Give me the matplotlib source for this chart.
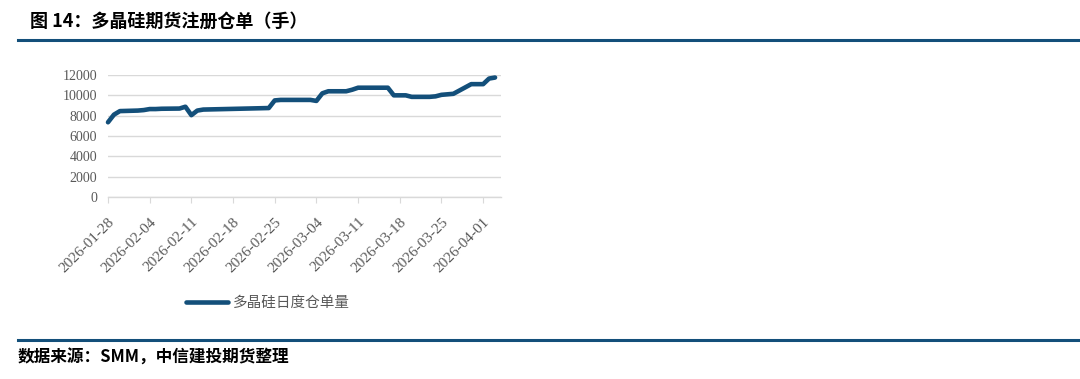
import matplotlib.pyplot as plt
import matplotlib.dates as mdates
import numpy as np
import pandas as pd

plt.rcParams['font.family'] = ['Noto Sans CJK SC', 'DejaVu Sans']

# 多晶硅日度仓单量 (手)
dates = ['2026-01-28', '2026-01-29', '2026-01-30', '2026-02-02', '2026-02-03',
         '2026-02-04', '2026-02-05', '2026-02-06', '2026-02-09', '2026-02-10',
         '2026-02-11', '2026-02-12', '2026-02-13', '2026-02-24', '2026-02-25',
         '2026-02-26', '2026-02-27', '2026-03-02', '2026-03-03', '2026-03-04',
         '2026-03-05', '2026-03-06', '2026-03-09', '2026-03-10', '2026-03-11',
         '2026-03-12', '2026-03-13', '2026-03-16', '2026-03-17', '2026-03-18',
         '2026-03-19', '2026-03-20', '2026-03-23', '2026-03-24', '2026-03-25',
         '2026-03-26', '2026-03-27', '2026-03-30', '2026-03-31', '2026-04-01',
         '2026-04-02', '2026-04-03']
volume = [7350, 8100, 8450, 8500, 8550,
          8650, 8650, 8680, 8700, 8880,
          8050, 8500, 8600, 8750, 9500,
          9550, 9550, 9550, 9550, 9450,
          10200, 10400, 10400, 10550, 10750,
          10750, 10750, 10750, 10000, 10000,
          10000, 9850, 9850, 9900, 10050,
          10100, 10150, 11100, 11100, 11100,
          11650, 11750]
tick_dates = ['2026-01-28', '2026-02-04', '2026-02-11', '2026-02-18', '2026-02-25',
              '2026-03-04', '2026-03-11', '2026-03-18', '2026-03-25', '2026-04-01']

title = '图 14：多晶硅期货注册仓单（手）'
series_name = '多晶硅日度仓单量'
source = '数据来源：SMM，中信建投期货整理'

blue = '#134f7a'
gray_txt = '#595959'
grid_c = '#d9d9d9'

W, H = 1080, 379
fig = plt.figure(figsize=(W / 100, H / 100), dpi=100)

# axes position in pixels
left, right, top, bottom = 108, 501, 75, 197
ax = fig.add_axes([left / W, 1 - bottom / H, (right - left) / W, (bottom - top) / H])

x = pd.to_datetime(dates)
ax.plot(x, volume, color=blue, lw=3.3, solid_joinstyle='round', solid_capstyle='round',
        label=series_name, clip_on=False)

ax.set_ylim(0, 12000)
ax.set_yticks(np.arange(0, 12001, 2000))
ax.set_xlim(pd.Timestamp('2026-01-28'), pd.Timestamp('2026-04-04'))
ax.set_xticks(pd.to_datetime(tick_dates))
ax.xaxis.set_major_formatter(mdates.DateFormatter('%Y-%m-%d'))

ax.grid(axis='y', color=grid_c, lw=1)
ax.set_axisbelow(True)
for s in ['top', 'right', 'left']:
    ax.spines[s].set_visible(False)
ax.spines['bottom'].set_color(grid_c)
ax.spines['bottom'].set_linewidth(1)
ax.tick_params(axis='y', length=0, pad=8, labelsize=10, labelcolor=gray_txt)
ax.tick_params(axis='x', length=4, color=grid_c, direction='out', pad=9,
               labelsize=11, labelcolor=gray_txt)
for lbl in ax.get_yticklabels() + ax.get_xticklabels():
    lbl.set_fontfamily(['Liberation Serif', 'DejaVu Serif'])
for lbl in ax.get_xticklabels():
    lbl.set_rotation(45)
    lbl.set_ha('right')
    lbl.set_rotation_mode('anchor')

leg = fig.legend(loc='center', bbox_to_anchor=(268 / W, 1 - 303 / H), frameon=False,
                 handlelength=2.9, handletextpad=0.3, prop={'size': 10.5})
for t in leg.get_texts():
    t.set_color(gray_txt)

# header / footer
fig.text(30 / W, 1 - 21 / H, title, fontsize=13, fontweight='bold', va='center', ha='left',
         color='black')
fig.add_artist(plt.Line2D([18 / W, 1], [1 - 40 / H, 1 - 40 / H], color=blue, lw=2.2))
fig.add_artist(plt.Line2D([18 / W, 1], [1 - 340 / H, 1 - 340 / H], color=blue, lw=2.2))
fig.text(18 / W, 1 - 358 / H, source, fontsize=12, fontweight='bold', va='center', ha='left',
         color='black')

fig.savefig('out.png', dpi=100)
